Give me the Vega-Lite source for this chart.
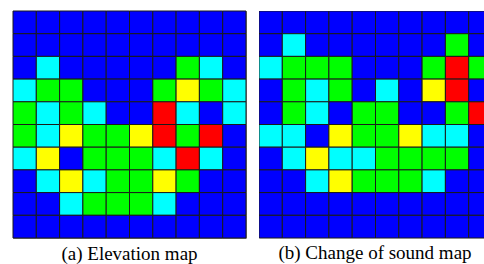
{
  "$schema": "https://vega.github.io/schema/vega-lite/v6.json",
  "padding": {"left": 12, "top": 10, "right": 0, "bottom": 0},
  "spacing": 10,
  "background": "white",
  "config": {"view": {"stroke": "#888", "strokeWidth": 1}, "title": {"font": "Liberation Serif", "fontSize": 19, "fontWeight": "normal", "color": "#000"}},
  "datasets": {
    "a": [
      {"r":0,"c":0,"v":1},{"r":0,"c":1,"v":1},{"r":0,"c":2,"v":1},{"r":0,"c":3,"v":1},{"r":0,"c":4,"v":1},{"r":0,"c":5,"v":1},{"r":0,"c":6,"v":1},{"r":0,"c":7,"v":1},{"r":0,"c":8,"v":1},{"r":0,"c":9,"v":1},
      {"r":1,"c":0,"v":1},{"r":1,"c":1,"v":1},{"r":1,"c":2,"v":1},{"r":1,"c":3,"v":1},{"r":1,"c":4,"v":1},{"r":1,"c":5,"v":1},{"r":1,"c":6,"v":1},{"r":1,"c":7,"v":1},{"r":1,"c":8,"v":1},{"r":1,"c":9,"v":1},
      {"r":2,"c":0,"v":1},{"r":2,"c":1,"v":2},{"r":2,"c":2,"v":1},{"r":2,"c":3,"v":1},{"r":2,"c":4,"v":1},{"r":2,"c":5,"v":1},{"r":2,"c":6,"v":1},{"r":2,"c":7,"v":3},{"r":2,"c":8,"v":2},{"r":2,"c":9,"v":1},
      {"r":3,"c":0,"v":2},{"r":3,"c":1,"v":3},{"r":3,"c":2,"v":3},{"r":3,"c":3,"v":1},{"r":3,"c":4,"v":1},{"r":3,"c":5,"v":1},{"r":3,"c":6,"v":3},{"r":3,"c":7,"v":4},{"r":3,"c":8,"v":3},{"r":3,"c":9,"v":2},
      {"r":4,"c":0,"v":3},{"r":4,"c":1,"v":2},{"r":4,"c":2,"v":3},{"r":4,"c":3,"v":2},{"r":4,"c":4,"v":1},{"r":4,"c":5,"v":1},{"r":4,"c":6,"v":5},{"r":4,"c":7,"v":2},{"r":4,"c":8,"v":1},{"r":4,"c":9,"v":2},
      {"r":5,"c":0,"v":3},{"r":5,"c":1,"v":2},{"r":5,"c":2,"v":4},{"r":5,"c":3,"v":3},{"r":5,"c":4,"v":3},{"r":5,"c":5,"v":4},{"r":5,"c":6,"v":5},{"r":5,"c":7,"v":3},{"r":5,"c":8,"v":5},{"r":5,"c":9,"v":1},
      {"r":6,"c":0,"v":2},{"r":6,"c":1,"v":4},{"r":6,"c":2,"v":1},{"r":6,"c":3,"v":3},{"r":6,"c":4,"v":3},{"r":6,"c":5,"v":3},{"r":6,"c":6,"v":2},{"r":6,"c":7,"v":5},{"r":6,"c":8,"v":2},{"r":6,"c":9,"v":1},
      {"r":7,"c":0,"v":1},{"r":7,"c":1,"v":2},{"r":7,"c":2,"v":4},{"r":7,"c":3,"v":2},{"r":7,"c":4,"v":3},{"r":7,"c":5,"v":3},{"r":7,"c":6,"v":4},{"r":7,"c":7,"v":3},{"r":7,"c":8,"v":1},{"r":7,"c":9,"v":1},
      {"r":8,"c":0,"v":1},{"r":8,"c":1,"v":1},{"r":8,"c":2,"v":2},{"r":8,"c":3,"v":3},{"r":8,"c":4,"v":3},{"r":8,"c":5,"v":3},{"r":8,"c":6,"v":2},{"r":8,"c":7,"v":1},{"r":8,"c":8,"v":1},{"r":8,"c":9,"v":1},
      {"r":9,"c":0,"v":1},{"r":9,"c":1,"v":1},{"r":9,"c":2,"v":1},{"r":9,"c":3,"v":1},{"r":9,"c":4,"v":1},{"r":9,"c":5,"v":1},{"r":9,"c":6,"v":1},{"r":9,"c":7,"v":1},{"r":9,"c":8,"v":1},{"r":9,"c":9,"v":1}
    ],
    "b": [
      {"r":0,"c":0,"v":1},{"r":0,"c":1,"v":1},{"r":0,"c":2,"v":1},{"r":0,"c":3,"v":1},{"r":0,"c":4,"v":1},{"r":0,"c":5,"v":1},{"r":0,"c":6,"v":1},{"r":0,"c":7,"v":1},{"r":0,"c":8,"v":1},{"r":0,"c":9,"v":1},
      {"r":1,"c":0,"v":1},{"r":1,"c":1,"v":2},{"r":1,"c":2,"v":1},{"r":1,"c":3,"v":1},{"r":1,"c":4,"v":1},{"r":1,"c":5,"v":1},{"r":1,"c":6,"v":1},{"r":1,"c":7,"v":1},{"r":1,"c":8,"v":3},{"r":1,"c":9,"v":1},
      {"r":2,"c":0,"v":2},{"r":2,"c":1,"v":3},{"r":2,"c":2,"v":3},{"r":2,"c":3,"v":3},{"r":2,"c":4,"v":1},{"r":2,"c":5,"v":1},{"r":2,"c":6,"v":1},{"r":2,"c":7,"v":3},{"r":2,"c":8,"v":5},{"r":2,"c":9,"v":3},
      {"r":3,"c":0,"v":1},{"r":3,"c":1,"v":3},{"r":3,"c":2,"v":2},{"r":3,"c":3,"v":3},{"r":3,"c":4,"v":1},{"r":3,"c":5,"v":2},{"r":3,"c":6,"v":1},{"r":3,"c":7,"v":4},{"r":3,"c":8,"v":5},{"r":3,"c":9,"v":1},
      {"r":4,"c":0,"v":1},{"r":4,"c":1,"v":3},{"r":4,"c":2,"v":2},{"r":4,"c":3,"v":1},{"r":4,"c":4,"v":3},{"r":4,"c":5,"v":3},{"r":4,"c":6,"v":1},{"r":4,"c":7,"v":1},{"r":4,"c":8,"v":3},{"r":4,"c":9,"v":5},
      {"r":5,"c":0,"v":2},{"r":5,"c":1,"v":2},{"r":5,"c":2,"v":1},{"r":5,"c":3,"v":4},{"r":5,"c":4,"v":3},{"r":5,"c":5,"v":3},{"r":5,"c":6,"v":4},{"r":5,"c":7,"v":2},{"r":5,"c":8,"v":2},{"r":5,"c":9,"v":1},
      {"r":6,"c":0,"v":1},{"r":6,"c":1,"v":2},{"r":6,"c":2,"v":4},{"r":6,"c":3,"v":2},{"r":6,"c":4,"v":2},{"r":6,"c":5,"v":3},{"r":6,"c":6,"v":3},{"r":6,"c":7,"v":3},{"r":6,"c":8,"v":3},{"r":6,"c":9,"v":1},
      {"r":7,"c":0,"v":1},{"r":7,"c":1,"v":1},{"r":7,"c":2,"v":2},{"r":7,"c":3,"v":4},{"r":7,"c":4,"v":3},{"r":7,"c":5,"v":3},{"r":7,"c":6,"v":3},{"r":7,"c":7,"v":2},{"r":7,"c":8,"v":1},{"r":7,"c":9,"v":1},
      {"r":8,"c":0,"v":1},{"r":8,"c":1,"v":1},{"r":8,"c":2,"v":1},{"r":8,"c":3,"v":1},{"r":8,"c":4,"v":1},{"r":8,"c":5,"v":1},{"r":8,"c":6,"v":1},{"r":8,"c":7,"v":1},{"r":8,"c":8,"v":1},{"r":8,"c":9,"v":1},
      {"r":9,"c":0,"v":1},{"r":9,"c":1,"v":1},{"r":9,"c":2,"v":1},{"r":9,"c":3,"v":1},{"r":9,"c":4,"v":1},{"r":9,"c":5,"v":1},{"r":9,"c":6,"v":1},{"r":9,"c":7,"v":1},{"r":9,"c":8,"v":1},{"r":9,"c":9,"v":1}
    ]
  },
  "hconcat": [
    {
      "width": 233,
      "height": 227,
      "data": {"name": "a"},
      "title": {"text": "(a) Elevation map", "orient": "bottom", "offset": 6},
      "mark": {"type": "rect", "stroke": "#1a1a1a", "strokeWidth": 1},
      "encoding": {
        "x": {"field": "c", "type": "ordinal", "axis": null, "scale": {"paddingInner": 0, "paddingOuter": 0}},
        "y": {"field": "r", "type": "ordinal", "axis": null, "scale": {"paddingInner": 0, "paddingOuter": 0}},
        "color": {"field": "v", "type": "ordinal", "legend": null, "scale": {"domain": [1, 2, 3, 4, 5], "range": ["#0000ff", "#00ffff", "#00ff00", "#ffff00", "#ff0000"]}}
      }
    },
    {
      "width": 229,
      "height": 227,
      "data": {"name": "b"},
      "title": {"text": "(b) Change of sound map", "orient": "bottom", "offset": 6, "anchor": "middle", "dx": 1.5},
      "mark": {"type": "rect", "stroke": "#1a1a1a", "strokeWidth": 1, "clip": true},
      "encoding": {
        "x": {"field": "c", "type": "ordinal", "axis": null, "scale": {"paddingInner": 0, "paddingOuter": 0, "range": [0, 233]}},
        "y": {"field": "r", "type": "ordinal", "axis": null, "scale": {"paddingInner": 0, "paddingOuter": 0}},
        "color": {"field": "v", "type": "ordinal", "legend": null, "scale": {"domain": [1, 2, 3, 4, 5], "range": ["#0000ff", "#00ffff", "#00ff00", "#ffff00", "#ff0000"]}}
      }
    }
  ],
  "resolve": {"scale": {"x": "independent"}}
}
